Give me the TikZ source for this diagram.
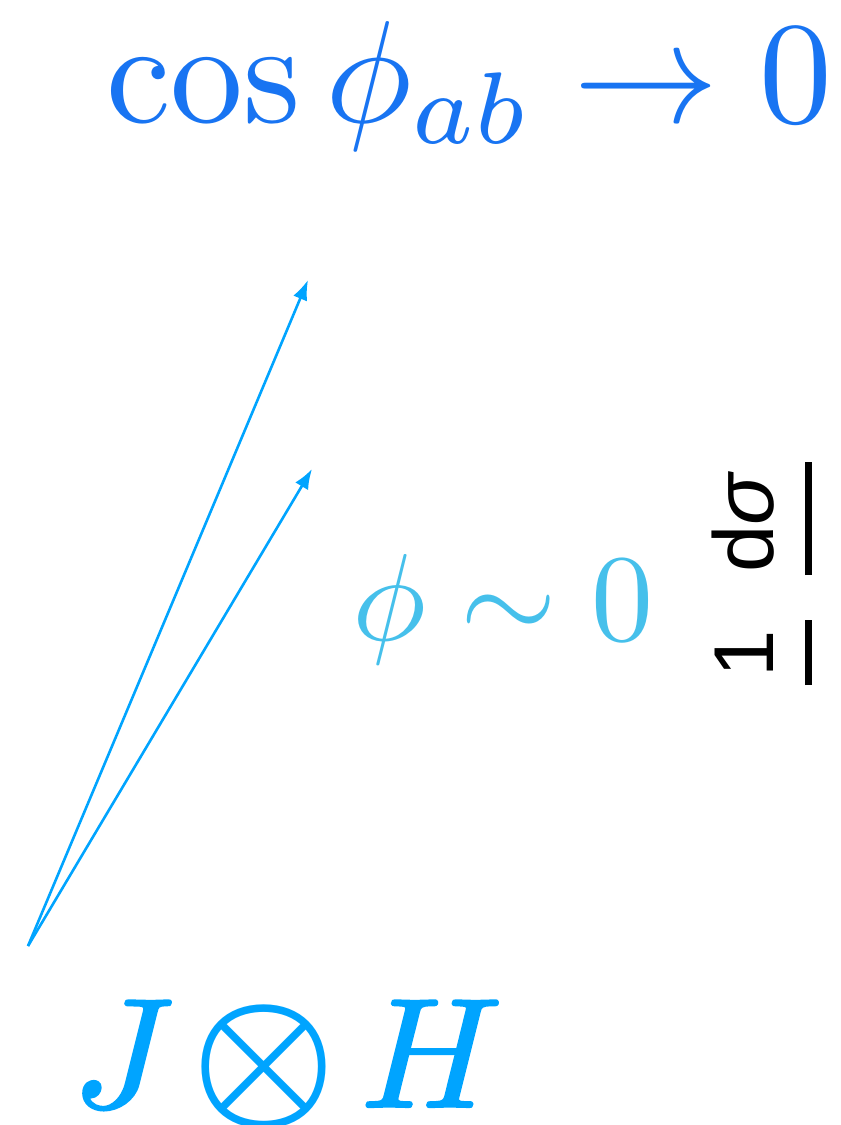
\documentclass[tikz,border=0pt]{standalone}
\usepackage{graphicx}
\usepackage{fontspec}
\newfontfamily\labsans{Liberation Sans}
\usetikzlibrary{arrows.meta}
\definecolor{topblue}{RGB}{24,116,242}
\definecolor{arrblue}{RGB}{0,164,255}
\definecolor{phiblue}{RGB}{70,192,235}
\newcommand\heavyglyph[1]{\special{pdf:literal direct 2 Tr 0.14 w 1 j}#1\special{pdf:literal direct 0 Tr}}
\tikzset{
  vec/.style={draw=arrblue, line width=2.6pt, -{Latex[length=20pt,width=15pt]}},
  fracbar/.style={draw=black, line width=7pt},
  eqn/.style={inner sep=0pt, anchor=base west, font=\fontsize{10}{12}\selectfont},
  ylab/.style={inner sep=0pt, anchor=base, rotate=90, font=\labsans\fontsize{85}{100}\selectfont}
}
\begin{document}
\begin{tikzpicture}[x=1pt,y=-1pt]
\useasboundingbox (0,0) rectangle (841,1125);
% top formula
\node[eqn, text=topblue] (cosab) at (106,122) {\scalebox{14.55}{$\cos\phi_{ab}\to 0$}};
% phi ~ 0
\node[eqn, text=phiblue] (phizero) at (352,640) {\scalebox{12.4}{$\phi\sim 0$}};
% J otimes H
\node[eqn, text=arrblue] (jh) at (72,1107) {\scalebox{15.6}{$\heavyglyph{J}\mskip-2mu\mathbin{\hbox{\scalebox{1.04}{\boldmath$\otimes$}}}\mskip-1.2mu\heavyglyph{H}$}};
% arrows
\coordinate (o) at (28,946);
\coordinate (t1) at (308,280);
\coordinate (t2) at (312,469);
\draw[vec] (o) -- (t1);
\draw[vec] (o) -- (t2);
% rotated axis label (cut at the right edge)
\node[ylab] (one) at (773,653.5) {1};
\node[ylab] (dsig) at (773,522) {d\textit{σ}};
\coordinate (b1a) at (808.5,685);
\coordinate (b1b) at (808.5,620);
\coordinate (b2a) at (808.5,575);
\coordinate (b2b) at (808.5,462);
\draw[fracbar] (b1a) -- (b1b);
\draw[fracbar] (b2a) -- (b2b);
\end{tikzpicture}
\end{document}
